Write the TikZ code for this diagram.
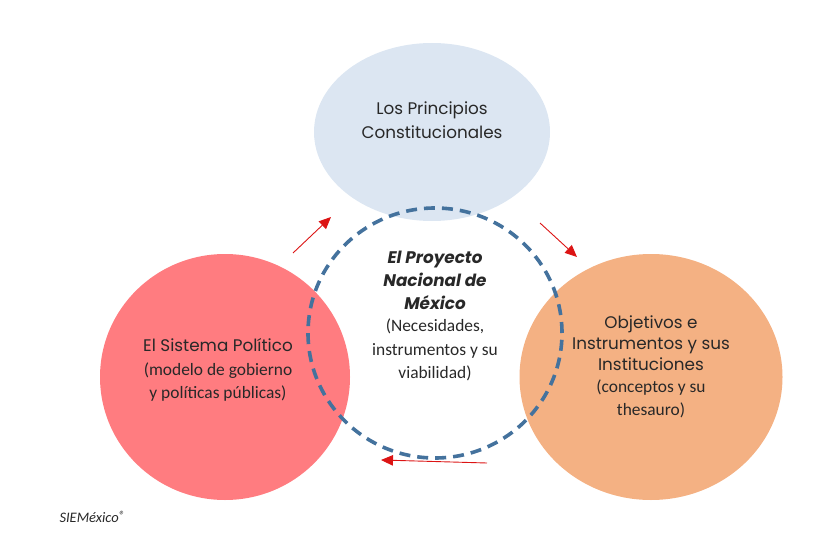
\documentclass[tikz,border=0pt]{standalone}
\usepackage{fontspec}
\setmainfont{Carlito}
\newfontfamily\gothic{Poppins}
\usepackage{tikz}
\usetikzlibrary{shapes.geometric,arrows.meta}
\definecolor{azulclaro}{RGB}{220,230,242}
\definecolor{rojoclaro}{RGB}{255,124,128}
\definecolor{naranja}{RGB}{244,177,131}
\definecolor{azulraya}{RGB}{68,114,157}
\definecolor{flecha}{RGB}{220,20,20}
\definecolor{texto}{RGB}{40,40,40}
\tikzset{
    circulo/.style = {ellipse, draw=none, inner sep=0pt},
    raya-circulo/.style = {ellipse, draw=azulraya, line width=3.6pt, dash pattern=on 11pt off 7pt, inner sep=0pt},
    titulo/.style = {align=center, text=texto, font=\gothic\fontsize{16.8}{24.5}\selectfont},
    subtitulo/.style = {align=center, text=texto, font=\fontsize{17.4}{23.5}\selectfont},
    flecha-roja/.style = {draw=flecha, line width=0.9pt, -{Triangle[length=12pt,width=10.5pt]}},
}

\begin{document}
\begin{tikzpicture}[x=1pt, y=-1pt]
\useasboundingbox (0,0) rectangle (838,543);
% the three circles
\node [circulo, fill=azulclaro, minimum width=236pt, minimum height=178pt] (principios) at (432,132) {};
\node [circulo, fill=rojoclaro, minimum width=250pt, minimum height=246pt] (sistema) at (225,377) {};
\node [circulo, fill=naranja, minimum width=263pt, minimum height=246pt] (objetivos) at (651,377) {};
\node [raya-circulo, minimum width=254pt, minimum height=250pt] (proyecto) at (435,333) {};

% texts
\node [titulo] at ([yshift=12pt]principios.center) {Los Principios\\Constitucionales};
\node [titulo, font=\gothic\bfseries\itshape\fontsize{16.8}{23}\selectfont] at (435,280) {El Proyecto\\Nacional de\\México};
\node [subtitulo] at (435,350) {(Necesidades,\\instrumentos y su\\viabilidad)};
\node [titulo] at (218,345) {El Sistema Político};
\node [subtitulo] at (218,382) {(modelo de gobierno\\y políticas públicas)};
\node [titulo, font=\gothic\fontsize{16.8}{21}\selectfont] at (651,343) {Objetivos e\\Instrumentos y sus\\Instituciones};
\node [subtitulo] at (651,399) {(conceptos y su\\thesauro)};

% arrows
\coordinate (f1a) at (293,253);
\coordinate (f1b) at (331,217);
\coordinate (f2a) at (540,223);
\coordinate (f2b) at (577,257);
\coordinate (f3a) at (487,463);
\coordinate (f3b) at (381,460);
\draw [flecha-roja] (f1a) -- (f1b);
\draw [flecha-roja] (f2a) -- (f2b);
\draw [flecha-roja] (f3a) -- (f3b);

\node [anchor=west, text=texto, font=\itshape\fontsize{14.5}{16}\selectfont] (marca) at (56,517) {SIEMéxico{\fontsize{12}{12}\selectfont\raisebox{3pt}{®}}};
\end{tikzpicture}
\end{document}
